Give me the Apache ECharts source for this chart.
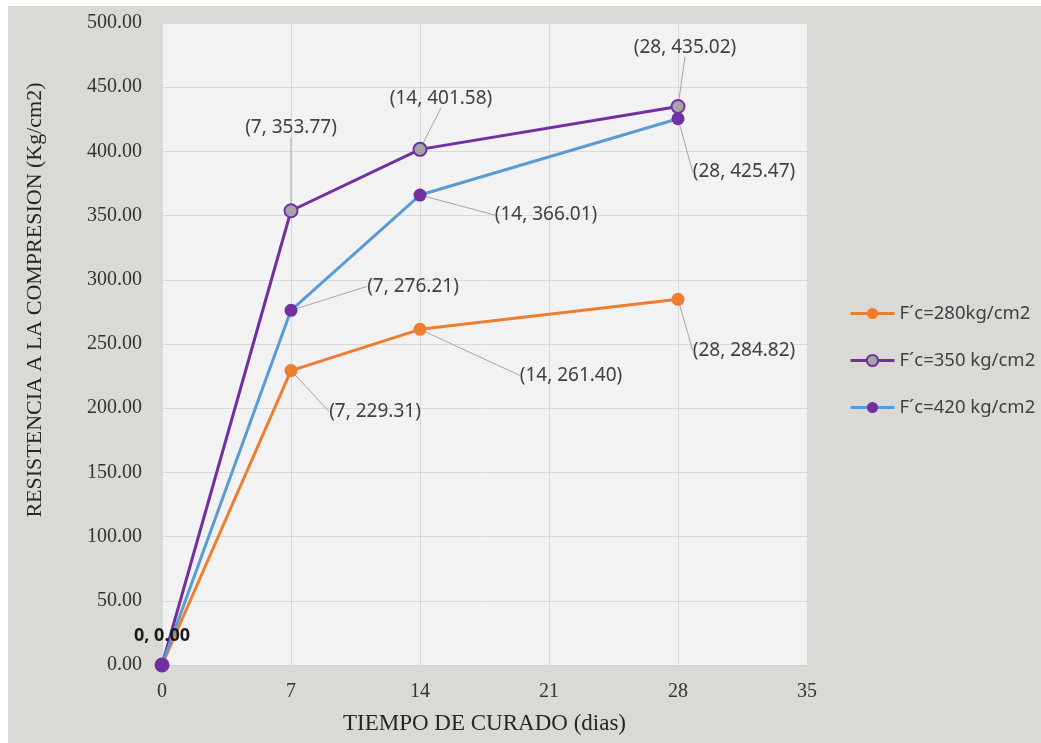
<!DOCTYPE html>
<html>
<head>
<meta charset="utf-8">
<script src="https://cdn.jsdelivr.net/npm/echarts@6/dist/echarts.min.js"></script>
<style>
  html, body { margin: 0; padding: 0; background: #ffffff; }
  #chart { position: absolute; left: 8px; top: 6px; width: 1033px; height: 737px; }
</style>
</head>
<body>
<div id="chart"></div>
<script>
// Curing time (days) and compressive strength (kg/cm2) per mix design
const curingDays = [0, 7, 14, 28];
const seriesNames = ['F´c=280kg/cm2', 'F´c=350 kg/cm2', 'F´c=420 kg/cm2'];
const strength280 = [0, 229.31, 261.40, 284.82];
const strength350 = [0, 353.77, 401.58, 435.02];
const strength420 = [0, 276.21, 366.01, 425.47];
const xTicks = { min: 0, max: 35, step: 7 };
const yTicks = { min: 0, max: 500, step: 50 };

// Label placement relative to each point (pixels), with leader lines
const labelShift = [
  [[0, 0], [84, 41], [151, 46], [66, 51]],
  [[0, 0], [0, -83], [21, -51], [7, -59]],
  [[0, -29], [122, -24], [126, 20], [66, 53]]
];

const serif = '"Liberation Serif", "Times New Roman", serif';
const sans = '"Noto Sans", "Open Sans", sans-serif';

function pointsOf(values) {
  return curingDays.map((d, i) => [d, values[i]]);
}

function makeSeries(idx, values, lineColor, fillColor, borderColor) {
  const data = pointsOf(values).map((v, i) => {
    const item = { value: v };
    if (i === 0) {
      if (idx === 2) {
        item.label = { fontWeight: 'bold', color: '#1a1a1a', fontSize: 18 };
        item.labelLine = { show: false };
      } else {
        item.label = { show: false };
      }
    }
    return item;
  });
  return {
    name: seriesNames[idx],
    type: 'line',
    data: data,
    symbol: 'circle',
    symbolSize: 13,
    lineStyle: { color: lineColor, width: 3 },
    itemStyle: { color: fillColor, borderColor: borderColor, borderWidth: borderColor === fillColor ? 0 : 2 },
    label: {
      show: true,
      position: 'inside',
      fontFamily: sans,
      fontSize: 19,
      color: '#404040',
      formatter: p => p.dataIndex === 0
        ? p.value[0] + ', ' + p.value[1].toFixed(2)
        : '(' + p.value[0] + ', ' + p.value[1].toFixed(2) + ')'
    },
    labelLine: { show: true, lineStyle: { color: '#a6a6a6', width: 1 } },
    labelLayout: p => {
      const s = labelShift[idx][p.dataIndex];
      return { dx: s[0], dy: s[1] };
    },
    emphasis: { disabled: true }
  };
}

const chart = echarts.init(document.getElementById('chart'), null, { renderer: 'canvas' });
chart.setOption({
  animation: false,
  backgroundColor: '#d9d9d5',
  grid: {
    left: 154, right: 234, top: 17, bottom: 78,
    show: true, backgroundColor: '#f2f2f2', borderWidth: 0
  },
  legend: {
    orient: 'vertical',
    left: 836, top: 293,
    itemWidth: 44, itemHeight: 14, itemGap: 28,
    lineStyle: { width: 3 },
    textStyle: { fontFamily: sans, fontSize: 18.5, color: '#404040' },
    data: seriesNames
  },
  xAxis: {
    type: 'value',
    min: xTicks.min, max: xTicks.max, interval: xTicks.step,
    name: 'TIEMPO DE CURADO (dias)',
    nameLocation: 'middle', nameGap: 47,
    nameTextStyle: { fontFamily: serif, fontSize: 23, color: '#262626' },
    axisLine: { show: true, lineStyle: { color: '#d0d0d0', width: 1 } },
    axisTick: { show: false },
    axisLabel: { fontFamily: serif, fontSize: 20, color: '#333333', margin: 17 },
    splitLine: { show: true, lineStyle: { color: '#d9d9d9', width: 1 } }
  },
  yAxis: {
    type: 'value',
    min: yTicks.min, max: yTicks.max, interval: yTicks.step,
    name: 'RESISTENCIA A LA COMPRESION (Kg/cm2)',
    nameLocation: 'middle', nameGap: 116,
    nameTextStyle: { fontFamily: serif, fontSize: 22, color: '#262626', padding: [0, 0, 0, 88] },
    axisLine: { show: false },
    axisTick: { show: false },
    axisLabel: { fontFamily: serif, fontSize: 20, color: '#333333', margin: 20,
                 formatter: v => v.toFixed(2) },
    splitLine: { show: true, lineStyle: { color: '#d9d9d9', width: 1 } }
  },
  series: [
    makeSeries(0, strength280, '#ed7d31', '#ed7d31', '#ed7d31'),
    makeSeries(1, strength350, '#7030a0', '#a5a5a5', '#7030a0'),
    makeSeries(2, strength420, '#5b9bd5', '#7030a0', '#7030a0')
  ]
});
</script>
</body>
</html>
